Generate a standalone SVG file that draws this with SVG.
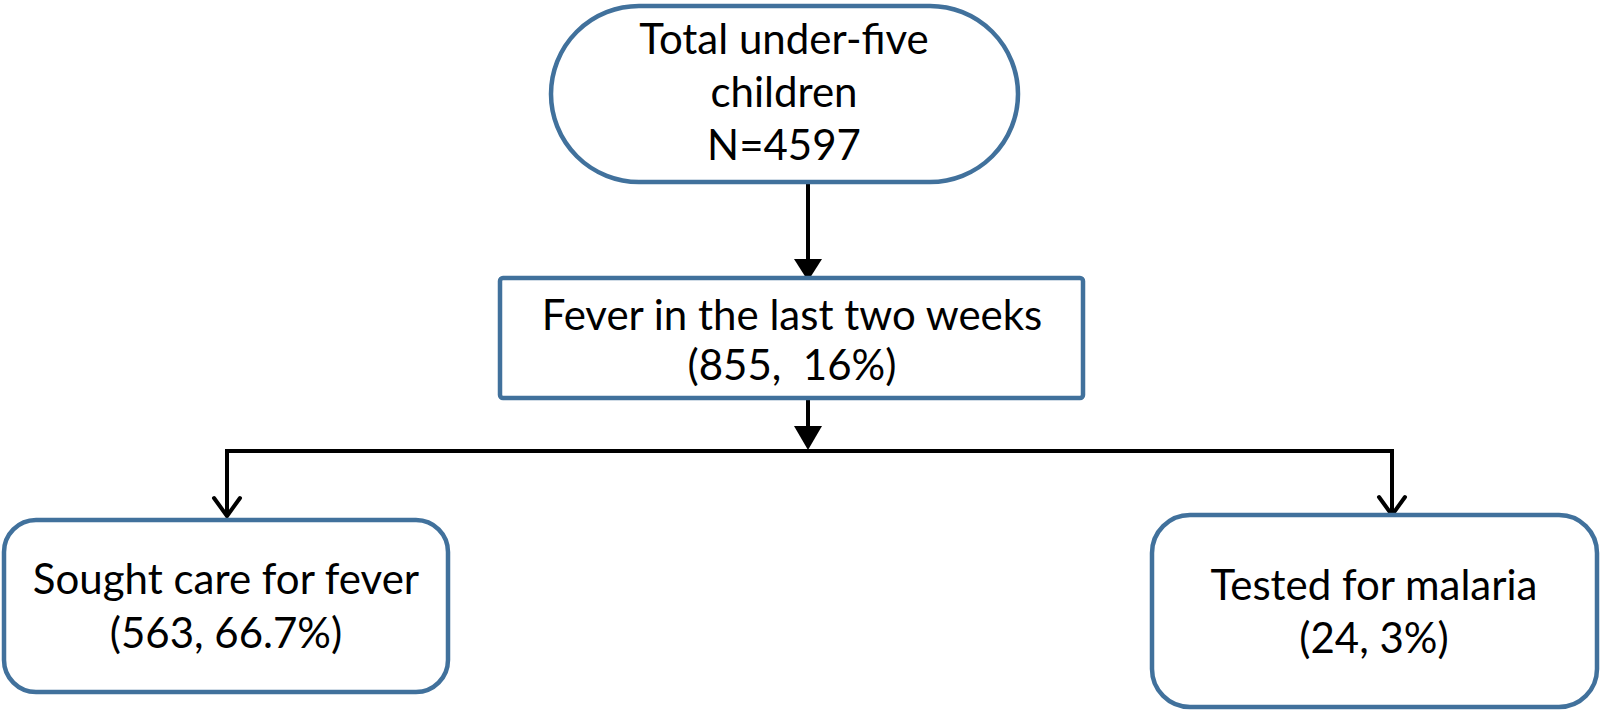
<svg xmlns="http://www.w3.org/2000/svg" width="1602" height="712" viewBox="0 0 1602 712">
<style>
.box{fill:#ffffff;stroke:#41719C;stroke-width:4.5}
.t{font-family:Lato,"Liberation Sans",Arial,sans-serif;font-size:42px;fill:#000;text-anchor:middle;white-space:pre}
.c{stroke:#000;stroke-width:4;fill:none}
.chev{stroke:#000;stroke-width:4;fill:none;stroke-linecap:round;stroke-linejoin:miter}
</style>
<rect width="1602" height="712" fill="#ffffff"/>
<g id="connectors">
<line class="c" x1="808" y1="182" x2="808" y2="262"/>
<polygon points="794,259 822,259 808,281" fill="#000"/>
<line class="c" x1="808" y1="398" x2="808" y2="428"/>
<polygon points="794,426 822,426 808,450" fill="#000"/>
<polyline class="c" points="227,515 227,451 1392,451 1392,512"/>
<polyline class="chev" points="214,498 227,516 240,498"/>
<polyline class="chev" points="1379,497 1392,515 1405,497"/>
</g>
<g id="node-total">
<rect class="box" x="551" y="6" width="467" height="176" rx="88" ry="88"/>
<text class="t" x="784" y="54">Total under-five</text>
<text class="t" x="784" y="107">children</text>
<text class="t" x="784" y="160">N=4597</text>
</g>
<g id="node-fever">
<rect class="box" x="500" y="278" width="583" height="120" rx="3"/>
<text class="t" x="792" y="330">Fever in the last two weeks</text>
<text class="t" x="792" y="380">(855,  16%)</text>
</g>
<g id="node-care">
<rect class="box" x="4" y="520" width="444" height="172" rx="32"/>
<text class="t" x="226" y="594">Sought care for fever</text>
<text class="t" x="226" y="648">(563, 66.7%)</text>
</g>
<g id="node-tested">
<rect class="box" x="1152" y="515" width="445" height="192" rx="38"/>
<text class="t" x="1374" y="600">Tested for malaria</text>
<text class="t" x="1374" y="653">(24, 3%)</text>
</g>
</svg>
